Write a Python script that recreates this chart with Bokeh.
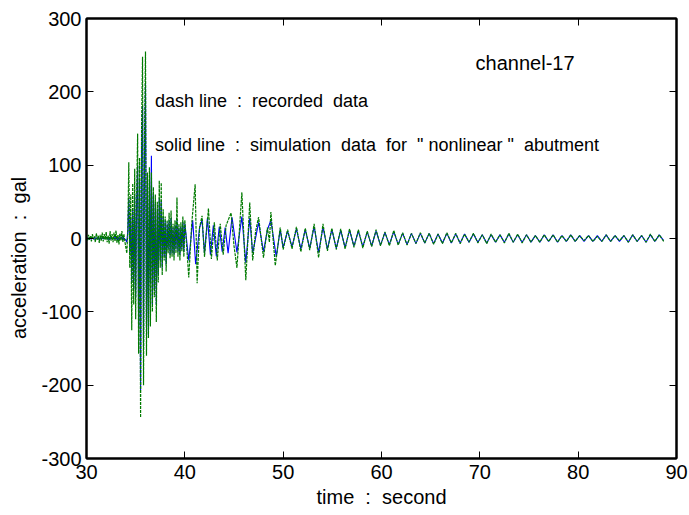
import numpy as np
from bokeh.plotting import figure
from bokeh.layouts import row
from bokeh.models import (Range1d, LinearAxis, Label, FixedTicker,
                          CustomLabelingPolicy, Spacer)
from bokeh.embed import file_html
from bokeh.resources import INLINE

# ---------------- data ----------------
# pre-event segment: 30.0 s .. step 0.1 s
pre_start, pre_step = 30.0, 0.1
rec_pre = [2, -3, 5, -2, 4, -4, 6, -1, 3, -5, 7, -2, 4, -6, 5, -3, 8, -4, 6, -2,
           9, -5, 4, -7, 10, -3, 6, -5, 8, -4, 11, -6, 5, -8, 7, -3, 10, -5, 6, -4]
sim_pre = [0, 1, -1, 1, 0, -1, 1, 0, -1, 1, 0, 1, -1, 0, 1, -1, 2, -1, 1, 0,
           2, -1, 1, -2, 2, -1, 1, -1, 2, -1, 3, -2, 1, -2, 2, -1, 3, -2, 1, -1]

# main shock segment: 34.0 s .. step 0.1 s
main_start, main_step = 34.0, 0.1
rec_main = [-12, -20, 10, 104, -40, 60, -125, 75, -90, 95,
            -110, 60, 143, -157, 110, -244, 150, 248, -200, 130,
            255, -160, 90, -136, 97, -120, 90, -100, 70, -80,
            60, -114, 50, -60, 79, -40, 76, -50, 40, -30,
            30, -45, 25, -20, 35, -27, 38, -25, 20, -30,
            25, -20, 56, -25, 20, -30, 22, -18, 30, -25]
sim_main = [-2, -5, 10, 55, -20, 30, -60, 40, -70, 60,
            -80, 50, 100, -120, 80, -207, 120, 180, -150, 110,
            211, -120, 70, -132, 80, -60, 113, -90, 60, -70,
            50, -90, 40, -50, 55, -30, 50, -40, 30, -25,
            25, -35, 20, -15, 25, -22, 28, -20, 15, -22,
            18, -15, 25, -18, 15, -22, 16, -14, 22, -18]

# early coda 40-50 s (irregular peak times)
rec_coda_t = [40.0, 40.4, 40.7, 41.05, 41.25, 41.5, 41.75, 42.0, 42.4, 42.7,
              43.0, 43.3, 43.6, 43.9, 44.2, 44.7, 45.0, 45.3, 45.8, 46.2,
              46.6, 46.9, 47.2, 47.5, 48.0, 48.4, 48.6, 48.75, 49.2, 49.7]
rec_coda = [25, -53, 20, 74, -61, 15, 31, -25, 41, -28,
            22, -30, 20, -22, 18, 35, -10, -40, 63, -57,
            49, -30, 10, 29, -26, 15, -5, 36, -37, 15]
sim_coda_t = [40.0, 40.4, 40.8, 41.1, 41.5, 41.75, 42.0, 42.3, 42.6, 42.9,
              43.2, 43.5, 43.8, 44.1, 44.4, 44.8, 45.3, 45.8, 46.2, 46.6,
              46.9, 47.5, 48.0, 48.4, 48.75, 49.3, 49.7]
sim_coda = [20, -30, 25, -35, 15, 25, -20, 28, -22, 18,
            -24, 16, -18, 15, -20, 29, -19, 30, -33, 28,
            -20, 22, -18, 12, 25, -25, 12]

# late coda: 50.0 s .. step 0.45 s (half period)
tail_start, tail_step = 50.0, 0.45
rec_tail = [-15, 12, -14, 16, -18, 14, -16, 20, -26, 20, -17, 14, -15, 13, -14, 13,
            -12, 12, -13, 10, -11, 12, -10, 9, -10, 11, -9, 8, -9, 7, -7, 8, -6, 7,
            -8, 6, -7, 8, -6, 7, -7, 6, -5, 7, -6, 5, -7, 6, -5, 5, -6, 7, -5, 6,
            -6, 5, -5, 4, -5, 5, -4, 5, -5, 4, -4, 5, -4, 4, -3, 4, -4, 3, -4, 5,
            -4, 4, -3, 4, -5, 5, -4, 4, -5, 6, -4, 5, -4]
sim_tail = [-12, 10, -11, 13, -14, 12, -13, 16, -19, 15, -14, 12, -13, 11, -12, 11,
            -10, 10, -11, 9, -10, 10, -9, 8, -8, 9, -8, 7, -8, 7, -7, 7, -6, 7,
            -7, 6, -6, 7, -6, 6, -6, 6, -5, 6, -5, 5, -6, 5, -5, 5, -5, 6, -5, 5,
            -5, 5, -5, 4, -5, 5, -4, 5, -5, 4, -4, 5, -4, 4, -4, 4, -4, 4, -4, 5,
            -4, 4, -4, 4, -5, 5, -4, 4, -5, 5, -4, 5, -3]

x_ticks = [30, 40, 50, 60, 70, 80, 90]
y_ticks = [-300, -200, -100, 0, 100, 200, 300]


def assemble(pre, main, coda_t, coda, tail):
    t = list(pre_start + pre_step * np.arange(len(pre)))
    t += list(main_start + main_step * np.arange(len(main)))
    t += list(coda_t)
    t += list(tail_start + tail_step * np.arange(len(tail)))
    v = list(pre) + list(main) + list(coda) + list(tail)
    return t, v


t_rec, v_rec = assemble(rec_pre, rec_main, rec_coda_t, rec_coda, rec_tail)
t_sim, v_sim = assemble(sim_pre, sim_main, sim_coda_t, sim_coda, sim_tail)

FONT = "Liberation Sans"
NB = "\u00a0"
G = NB + " "  # wide gap (two spaces)

p = figure(frame_width=590, frame_height=440, output_backend="svg",
           toolbar_location=None,
           x_range=Range1d(30, 90), y_range=Range1d(-300, 300),
           min_border_left=70, min_border_right=12, min_border_top=18,
           min_border_bottom=45)
p.grid.visible = False
p.background_fill_color = "white"
p.border_fill_color = "white"
p.outline_line_color = "black"
p.outline_line_width = 2

p.line(t_sim, v_sim, line_color="#0000ff", line_width=1.1)
p.line(t_rec, v_rec, line_color="#007a00", line_width=1.2, line_dash="3 1")

for ax, ticks in ((p.xaxis[0], x_ticks), (p.yaxis[0], y_ticks)):
    ax.ticker = FixedTicker(ticks=ticks)
    ax.major_label_overrides = {t: str(t) for t in ticks}
    ax.major_tick_in = 7
    ax.major_tick_out = 0
    ax.minor_tick_in = 0
    ax.minor_tick_out = 0
    ax.axis_line_width = 2
    ax.major_tick_line_width = 1
    ax.major_label_text_font = FONT
    ax.major_label_text_font_size = "20px"
    ax.major_label_text_color = "black"
    ax.axis_label_text_font = FONT
    ax.axis_label_text_font_size = "20px"
    ax.axis_label_text_font_style = "normal"
    ax.axis_label_text_color = "black"

p.xaxis[0].axis_label = f"time{G}:{G}second"
p.xaxis[0].major_label_standoff = 6
p.xaxis[0].axis_label_standoff = 4
# trailing no-break spaces push the visible title a little below the frame centre
p.yaxis[0].axis_label = f"acceleration{G}:{G}gal" + NB * 7
p.yaxis[0].major_label_standoff = 5
p.yaxis[0].axis_label_standoff = 8

no_labels = CustomLabelingPolicy(code="for (const i of indices) indices.unset(i); return indices;")
right = LinearAxis(ticker=FixedTicker(ticks=y_ticks))
top = LinearAxis(ticker=FixedTicker(ticks=x_ticks))
for ax in (right, top):
    ax.major_tick_in = 7
    ax.major_tick_out = 0
    ax.minor_tick_in = 0
    ax.minor_tick_out = 0
    ax.axis_line_width = 2
    ax.major_label_policy = no_labels
    ax.major_label_standoff = 0
p.add_layout(right, "right")
p.add_layout(top, "above")

p.add_layout(Label(x=74.6, y=240, text="channel-17", text_font=FONT,
                   text_font_size="20px", text_align="center",
                   text_baseline="middle", text_color="black"))
p.add_layout(Label(x=36.96, y=187,
                   text=f"dash line{G}:{G}recorded{G}data",
                   text_font=FONT, text_font_size="18px", text_align="left",
                   text_baseline="middle", text_color="black"))
p.add_layout(Label(x=36.96, y=128,
                   text=f"solid line{G}:{G}simulation{G}data{G}for{G}\"{NB}nonlinear{NB}\"{G}abutment",
                   text_font=FONT, text_font_size="18px", text_align="left",
                   text_baseline="middle", text_color="black"))

page = row(Spacer(width=5, height=10), p, spacing=0)
open("out.html", "w").write(file_html(page, INLINE))
